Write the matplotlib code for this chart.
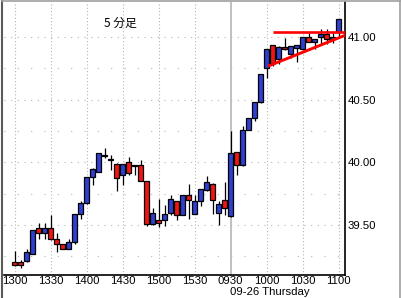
import matplotlib
matplotlib.use("Agg")
import matplotlib.pyplot as plt
from matplotlib.lines import Line2D

# 5-minute candles, 1300-1555 then 0930-1100 next day
opens = [39.20, 39.20, 39.21, 39.27, 39.475, 39.435, 39.475, 39.39, 39.35, 39.31,
         39.36, 39.585, 39.675, 39.88, 39.92, 40.055, 40.02, 39.985, 39.895, 40.00,
         39.975, 39.98, 39.85, 39.51, 39.54, 39.54, 39.595, 39.69, 39.58, 39.735,
         39.59, 39.69, 39.775, 39.825, 39.595, 39.695,
         39.57, 40.085, 39.98, 40.26, 40.355, 40.48, 40.75, 40.935, 40.82, 40.915,
         40.865, 40.915, 40.90, 40.995, 40.955, 40.995, 41.02, 40.98, 41.035]
highs = [39.29, 39.22, 39.31, 39.46, 39.515, 39.515, 39.58, 39.435, 39.35, 39.39,
         39.59, 39.69, 39.88, 39.95, 40.075, 40.115, 40.06, 39.99, 39.985, 40.045,
         39.975, 40.02, 39.85, 39.635, 39.705, 39.66, 39.735, 39.69, 39.74, 39.825,
         39.74, 39.79, 39.89, 39.83, 39.69, 39.845,
         40.25, 40.085, 40.29, 40.355, 40.48, 40.70, 40.90, 40.935, 40.93, 40.99,
         40.93, 40.935, 40.995, 41.03, 40.98, 41.065, 41.065, 41.035, 41.145]
lows = [39.17, 39.155, 39.205, 39.265, 39.39, 39.39, 39.38, 39.28, 39.305, 39.305,
        39.35, 39.55, 39.67, 39.82, 39.92, 40.035, 39.94, 39.77, 39.82, 39.90,
        39.90, 39.85, 39.49, 39.50, 39.485, 39.49, 39.575, 39.54, 39.575, 39.545,
        39.585, 39.65, 39.77, 39.59, 39.495, 39.58,
        39.565, 39.90, 39.97, 40.255, 40.33, 40.47, 40.67, 40.765, 40.785, 40.895,
        40.835, 40.80, 40.895, 40.955, 40.90, 40.945, 40.945, 40.95, 41.0]
closes = [39.18, 39.18, 39.28, 39.46, 39.435, 39.475, 39.39, 39.35, 39.31, 39.365,
          39.585, 39.675, 39.88, 39.945, 40.075, 40.055, 40.02, 39.87, 39.985, 39.91,
          39.975, 39.85, 39.51, 39.595, 39.515, 39.585, 39.705, 39.575, 39.74, 39.695,
          39.69, 39.785, 39.845, 39.695, 39.67, 39.635,
          40.075, 39.98, 40.26, 40.355, 40.48, 40.70, 40.90, 40.79, 40.915, 40.90,
          40.93, 40.935, 40.995, 40.955, 40.98, 41.02, 40.98, 40.995, 41.14]

tick_pos = [0, 6, 12, 18, 24, 30, 36, 42, 48, 54]
tick_labels = ["1300", "1330", "1400", "1430", "1500", "1530", "0930", "1000", "1030", "1100"]
day_break = 36
price_ticks = [39.50, 40.00, 40.50, 41.00]

# drawn trendlines
resist_x = [43.0, 55.5]
resist_y = [41.04, 41.04]
support_x = [42.25, 55.5]
support_y = [40.766, 41.02]

BLUE = "#2f3fd2"
RED = "#f41414"
GRID = "#b4b4b4"

fig = plt.figure(figsize=(4.02, 2.98), dpi=100)
ax = fig.add_axes([4 / 402, 23 / 298, 341 / 402, 273 / 298])
ax.set_xlim(-1.75, 55.08)
ax.set_ylim(39.10, 41.278)

# grid
for p in tick_pos:
    if p == day_break:
        ax.axvline(p, color="#c0c0c0", lw=1.4, zorder=0)
    else:
        ax.axvline(p, color=GRID, lw=0.8, ls=(0, (1, 2)), zorder=0)
for y in [39.5, 40.0, 40.5, 41.0]:
    ax.axhline(y, color=GRID, lw=0.8, ls=(0, (1, 5)), zorder=0)
for y in [39.25, 39.75, 40.25, 40.75]:
    ax.axhline(y, color=GRID, lw=0.8, ls=(0, (1, 11)), zorder=0)

# candles
n = len(opens)
xs = list(range(n))
ax.vlines(xs, lows, highs, color="black", lw=0.9, zorder=2)
bodies_bottom = []
bodies_h = []
cols = []
for o, c in zip(opens, closes):
    lo = min(o, c)
    h = abs(c - o)
    if h < 0.004:
        h = 0.012
        lo = o - 0.006
        cols.append("black")
    elif c > o:
        cols.append(BLUE)
    else:
        cols.append(RED)
    bodies_bottom.append(lo)
    bodies_h.append(h)
ax.bar(xs, bodies_h, bottom=bodies_bottom, width=0.68, color=cols,
       edgecolor="black", linewidth=0.9, zorder=3)

# trendlines
ax.plot(resist_x, resist_y, color="#ff0000", lw=1.9, zorder=4, solid_capstyle="butt")
ax.plot(support_x, support_y, color="#ff0000", lw=2.1, zorder=4, solid_capstyle="butt")

# axes styling
for s in ["top", "left"]:
    ax.spines[s].set_visible(False)
ax.spines["right"].set_linewidth(1.2)
ax.spines["bottom"].set_linewidth(1.2)
ax.yaxis.tick_right()
ax.set_yticks(price_ticks)
ax.set_yticklabels(["%.2f" % v for v in price_ticks])
ax.set_xticks(tick_pos)
ax.set_xticklabels(tick_labels)
ax.tick_params(axis="both", length=0, labelsize=8.2)
ax.tick_params(axis="x", pad=0.8)
ax.tick_params(axis="y", pad=2)
for lab in ax.get_xticklabels() + ax.get_yticklabels():
    lab.set_family("Liberation Sans")

fig.text(230 / 402, 1.2 / 298, "09-26 Thursday", ha="left", va="bottom",
         fontsize=8.2, family="Liberation Sans")
fig.text(120 / 402, 1 - 23 / 298, "5 分足", ha="center", va="center",
         fontsize=8.5, family=["Noto Sans CJK JP", "DejaVu Sans"])

# window frame
fig.add_artist(Line2D([2.5 / 402, 2.5 / 402], [0, 1 - 1 / 298], color="#5a5a5a", lw=1.5))
fig.add_artist(Line2D([2 / 402, 1], [1 - 1 / 298, 1 - 1 / 298], color="#a0a0a0", lw=1.2))
fig.add_artist(Line2D([400 / 402, 400 / 402], [0, 1], color="#a0a0a0", lw=1.2))

fig.savefig("out.png", dpi=100)
